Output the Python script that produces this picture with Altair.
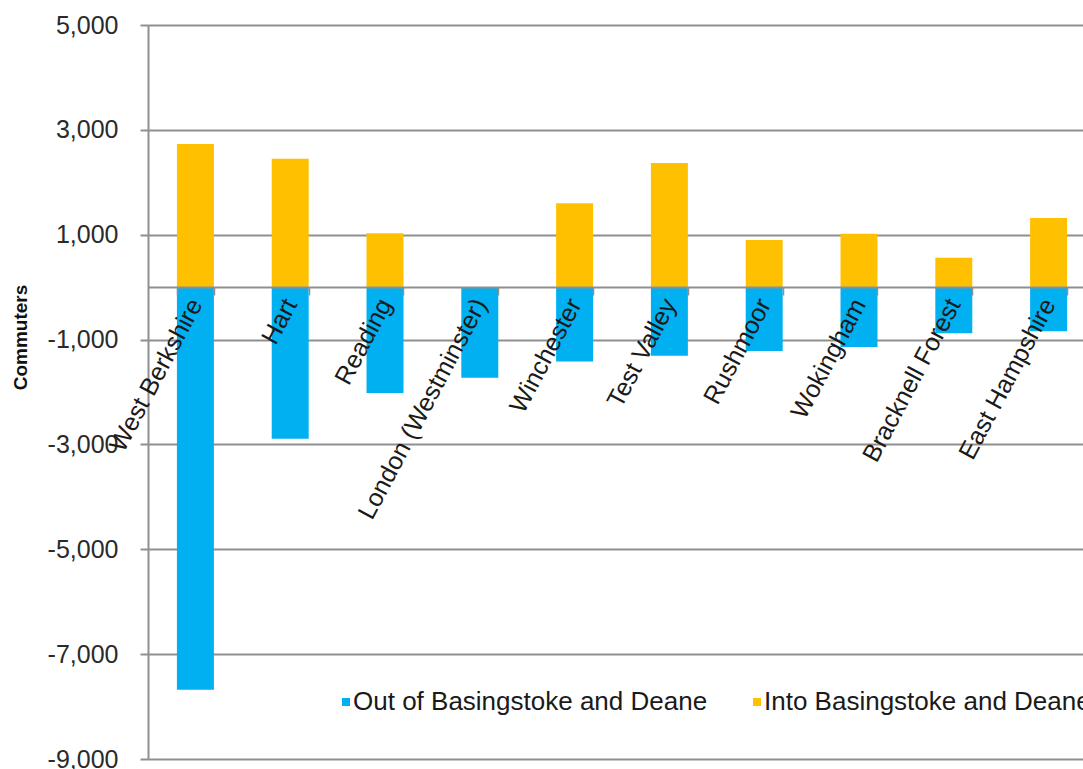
import altair as alt
import pandas as pd

areas = ["West Berkshire", "Hart", "Reading", "London (Westminster)", "Winchester",
         "Test Valley", "Rushmoor", "Wokingham", "Bracknell Forest", "East Hampshire"]
out_of = [-7680, -2890, -2020, -1730, -1420, -1310, -1220, -1140, -880, -840]
into = [2730, 2450, 1030, 0, 1600, 2370, 900, 1020, 560, 1320]
series = ["Out of Basingstoke and Deane", "Into Basingstoke and Deane"]
colors = ["#00B0F0", "#FFC000"]
y_ticks = [-9000, -7000, -5000, -3000, -1000, 1000, 3000, 5000]

rows = []
for a, o, i in zip(areas, out_of, into):
    rows.append({"area": a, "series": series[0], "value": o})
    rows.append({"area": a, "series": series[1], "value": i})
df = pd.DataFrame(rows)

FONT = "Liberation Sans"
GRID = "#8f8f8f"

chart = alt.Chart(df).mark_bar().encode(
    x=alt.X("area:N", sort=areas,
            scale=alt.Scale(range=[0, 948], paddingInner=0.61, paddingOuter=0.305),
            axis=alt.Axis(title=None, offset=-472, tickBand="extent", tickSize=8,
                          tickColor=GRID, tickWidth=1.5, domainColor=GRID, domainWidth=2,
                          labelAngle=298, labelAlign="right", labelBaseline="middle",
                          labelPadding=5, labelFont=FONT, labelFontSize=25,
                          labelColor="#1a1a1a", labelLimit=500, labelOverlap=False,
                          grid=False, zindex=1)),
    y=alt.Y("value:Q", stack=None,
            scale=alt.Scale(domain=[-9000, 5000], nice=False, zero=False),
            axis=alt.Axis(title="Commuters", values=y_ticks,
                          labelExpr="replace(format(datum.value, ',d'), '\u2212', '-')",
                          grid=True, gridColor=GRID, gridWidth=2,
                          domainColor=GRID, domainWidth=2, tickColor=GRID,
                          tickWidth=2, tickSize=8, labelPadding=22,
                          labelFont=FONT, labelFontSize=25, labelColor="#2a2a2a",
                          titleFont=FONT, titleFontSize=19, titleFontWeight="bold",
                          titleColor="#111111", titleX=-128, titleY=312,
                          titleAngle=270, titleAlign="center", titleBaseline="middle")),
    color=alt.Color("series:N", sort=series,
                    scale=alt.Scale(domain=series, range=colors),
                    legend=alt.Legend(title=None, orient="none", direction="horizontal",
                                      legendX=185, legendY=664, symbolType="square",
                                      symbolSize=64, symbolStrokeWidth=0,
                                      labelFont=FONT, labelFontSize=26,
                                      labelColor="#1a1a1a", labelOffset={"expr": "-6"},
                                      columnPadding=36, labelLimit=600)),
    order=alt.Order("series:N")
).properties(
    width=935, height=734,
    autosize=alt.AutoSizeParams(type="none"),
    padding={"left": 148, "top": 25, "right": 0, "bottom": 10}
).configure_view(stroke=None).configure(background="white")

chart.save("out.html", embed_options={"renderer": "svg", "actions": False})
